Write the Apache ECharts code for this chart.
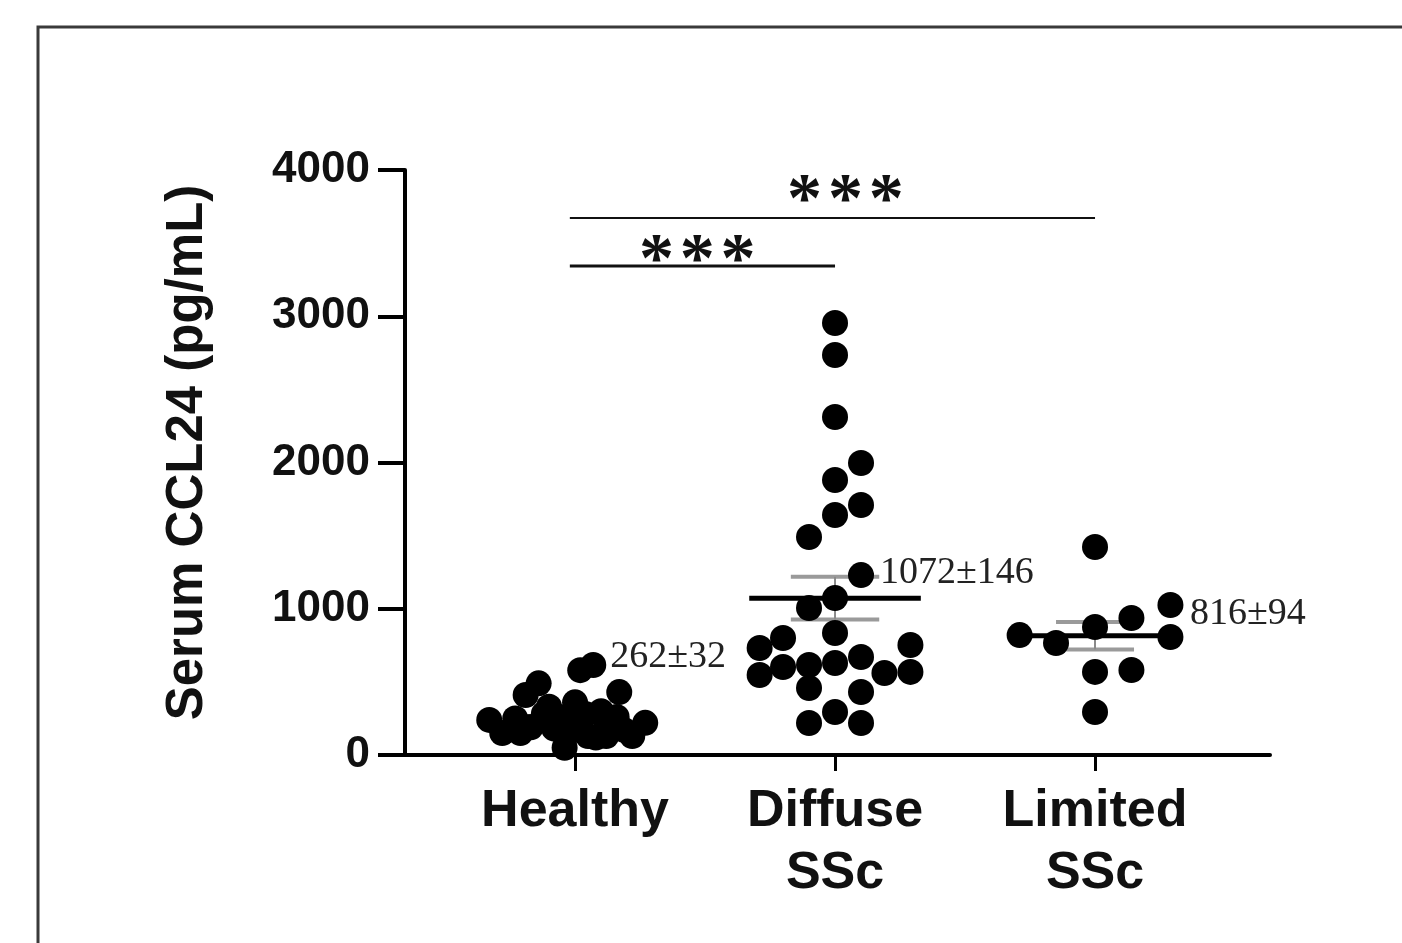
<!DOCTYPE html>
<html>
<head>
<meta charset="utf-8">
<script src="https://cdn.jsdelivr.net/npm/echarts@6/dist/echarts.min.js"></script>
<style>
html, body { margin: 0; padding: 0; background: #fff; }
#chart { width: 1402px; height: 943px; }
</style>
</head>
<body>
<div id="chart"></div>
<script>
// 分组
const groups = ['Healthy', 'Diffuse\nSSc', 'Limited\nSSc']
const yTicks = [0, 1000, 2000, 3000, 4000]

// 各组数值 (pg/mL) 与水平散开量 (分组间距的比例)
const healthyValues = [240, 150, 410, 490, 190, 330, 260, 280, 160, 580, 615, 360, 50, 280,
    300, 430, 260, 220, 130, 130, 130, 250, 180, 220, 170, 260, 120, 150]
const healthyJitter = [-0.33, -0.28, -0.19, -0.14, -0.17, -0.10, -0.06, -0.12, -0.02, 0.02, 0.07, 0, -0.04, 0.04,
    0.10, 0.17, 0.16, 0.27, 0.05, 0.12, 0.22, -0.23, -0.08, 0.12, 0.19, -0.02, 0.08, -0.21]

const diffuseValues = [2954, 2735, 2311, 1997, 1880, 1709, 1641, 1491, 1230, 1073, 1005, 834, 800, 732,
    752, 547, 602, 615, 629, 670, 561, 568, 458, 431, 294, 219, 219]
const diffuseJitter = [0, 0, 0, 0.10, 0, 0.10, 0, -0.10, 0.10, 0, -0.10, 0, -0.20, -0.29,
    0.29, -0.29, -0.20, -0.10, 0, 0.10, 0.19, 0.29, -0.10, 0.10, 0, -0.10, 0.10]

const limitedValues = [1422, 1026, 820, 766, 875, 937, 807, 568, 581, 294]
const limitedJitter = [0, 0.29, -0.29, -0.15, 0, 0.14, 0.29, 0, 0.14, 0]

// 均值 ± SEM
const means = [262, 1072, 816]
const sems = [32, 146, 94]

// 显著性标记: [组A, 组B, 文本]
const sigPairs = [[1, 2, '*\u200a*\u200a*'], [1, 3, '*\u200a*\u200a*']]

function toPoints(values, jitter, center) {
    let out = []
    for (let i = 0; i < values.length; i++) {
        out.push([center + jitter[i], values[i]])
    }
    return out
}

const axisFont = 'Liberation Sans, Arial, sans-serif'
const serifFont = 'Liberation Serif, Times New Roman, serif'

let myChart = echarts.init(document.getElementById('chart'))

// 均值线和误差线的半宽 (分组间距的比例)
const meanHalf = [0.2, 0.33, 0.29]
const semHalf = [0.12, 0.17, 0.15]
// 均值标签位置
const labelPos = [[1.135, 670], [2.173, 1245], [3.365, 965]]
// 显著性横线高度与星号中心
const sigLevel = [3343, 3672]
const sigStarPos = [[1.47, 3368], [2.04, 3778]]
const sigWidth = [3, 2]

function dotSeries(values, jitter, center) {
    return {
        type: 'scatter', z: 2, symbolSize: 26,
        itemStyle: { color: '#000', opacity: 1 },
        emphasis: { disabled: true },
        data: toPoints(values, jitter, center)
    }
}

myChart.setOption({
    animation: false,
    backgroundColor: '#fff',
    grid: { left: 405, right: 132, top: 170, bottom: 188 },
    graphic: [{
        type: 'rect',
        shape: { x: 38, y: 27, width: 1420, height: 960 },
        style: { fill: 'none', stroke: '#3a3a3a', lineWidth: 3 },
        silent: true
    }],
    xAxis: {
        type: 'value',
        min: 0.346,
        max: 3.673,
        splitLine: { show: false },
        axisLine: { lineStyle: { color: '#000', width: 4 } },
        axisTick: {
            show: true,
            customValues: [1, 2, 3],
            length: 16,
            lineStyle: { color: '#000', width: 3 }
        },
        axisLabel: {
            customValues: [1, 2, 3],
            formatter: function (v) { return groups[Math.round(v) - 1] },
            fontFamily: axisFont,
            fontWeight: 'bold',
            fontSize: 52,
            lineHeight: 62,
            color: '#111',
            margin: 26
        }
    },
    yAxis: {
        type: 'value',
        min: yTicks[0],
        max: yTicks[yTicks.length - 1],
        interval: 1000,
        splitLine: { show: false },
        axisLine: { show: true, lineStyle: { color: '#000', width: 4 } },
        axisTick: { show: true, length: 27, lineStyle: { color: '#000', width: 4 } },
        axisLabel: {
            formatter: function (v) { return String(v) },
            fontFamily: axisFont,
            fontWeight: 'bold',
            fontSize: 44,
            color: '#111',
            margin: 35
        },
        name: 'Serum CCL24 (pg/mL)',
        nameLocation: 'middle',
        nameGap: 192,
        nameTextStyle: {
            fontFamily: axisFont,
            fontWeight: 'bold',
            fontSize: 51,
            color: '#111',
            padding: [0, 0, 0, 20]
        }
    },
    series: [
        // 误差线 (灰色, 在点下面)
        {
            type: 'custom',
            z: 1,
            data: means.map(function (m, i) { return [i + 1, m, sems[i]] }),
            renderItem: function (params, api) {
                let i = params.dataIndex
                let x = api.value(0), m = api.value(1), s = api.value(2)
                let hi = m + s, lo = m - s
                let a = api.coord([x - semHalf[i], hi]), b = api.coord([x + semHalf[i], hi])
                let c = api.coord([x - semHalf[i], lo]), d = api.coord([x + semHalf[i], lo])
                let e = api.coord([x, hi]), f = api.coord([x, lo])
                let st = { stroke: '#9a9a9a', lineWidth: 4 }
                return {
                    type: 'group',
                    children: [
                        { type: 'line', shape: { x1: a[0], y1: a[1], x2: b[0], y2: b[1] }, style: st },
                        { type: 'line', shape: { x1: c[0], y1: c[1], x2: d[0], y2: d[1] }, style: st },
                        { type: 'line', shape: { x1: e[0], y1: e[1], x2: f[0], y2: f[1] }, style: { stroke: '#8a8a8a', lineWidth: 2 } }
                    ]
                }
            }
        },
        dotSeries(healthyValues, healthyJitter, 1),
        dotSeries(diffuseValues, diffuseJitter, 2),
        dotSeries(limitedValues, limitedJitter, 3),
        // 均值线 + 标签
        {
            type: 'custom',
            z: 3,
            data: means.map(function (m, i) { return [i + 1, m, sems[i]] }),
            renderItem: function (params, api) {
                let i = params.dataIndex
                let x = api.value(0), m = api.value(1)
                let a = api.coord([x - meanHalf[i], m]), b = api.coord([x + meanHalf[i], m])
                let t = api.coord(labelPos[i])
                return {
                    type: 'group',
                    children: [
                        { type: 'line', shape: { x1: a[0], y1: a[1], x2: b[0], y2: b[1] }, style: { stroke: '#000', lineWidth: 5 } },
                        {
                            type: 'text', x: t[0], y: t[1],
                            style: {
                                text: means[i] + '±' + sems[i],
                                font: '38px ' + serifFont,
                                fill: '#222',
                                align: 'left',
                                verticalAlign: 'middle'
                            }
                        }
                    ]
                }
            }
        },
        // 显著性
        {
            type: 'custom',
            z: 3,
            data: sigPairs.map(function (p) { return [p[0], p[1]] }),
            renderItem: function (params, api) {
                let i = params.dataIndex
                let a = api.coord([api.value(0) - 0.02, sigLevel[i]])
                let b = api.coord([api.value(1), sigLevel[i]])
                let s = api.coord(sigStarPos[i])
                return {
                    type: 'group',
                    children: [
                        { type: 'line', shape: { x1: a[0], y1: a[1], x2: b[0], y2: b[1] }, style: { stroke: '#111', lineWidth: sigWidth[i] } },
                        {
                            type: 'text', x: s[0], y: s[1],
                            style: {
                                text: sigPairs[i][2],
                                font: 'bold 70px ' + serifFont,
                                fill: '#111',
                                align: 'center',
                                verticalAlign: 'middle'
                            }
                        }
                    ]
                }
            }
        }
    ]
})
</script>
</body>
</html>
